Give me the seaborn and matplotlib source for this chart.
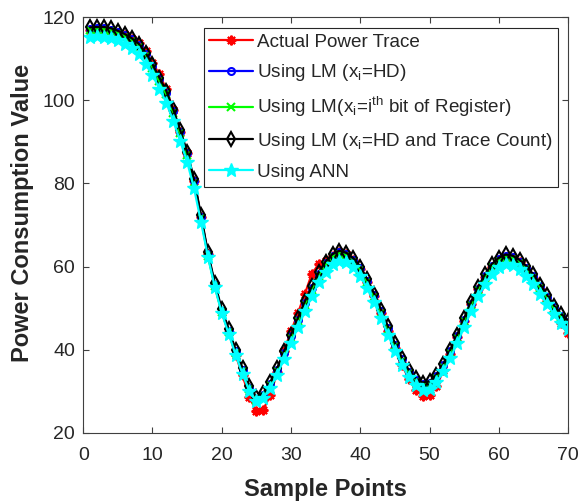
import pandas as pd
import seaborn as sns
import matplotlib.pyplot as plt

# Sample points 1..70 and the five traces
sample = list(range(1, 71))

lm_hd_count = [117.5, 117.6, 117.6, 117.3, 116.7, 115.9, 114.9, 113.6, 111.4, 108.6,
               105.4, 102.2, 97.8, 92.8, 87.6, 81.0, 72.4, 63.4, 56.0, 49.8,
               45.0, 40.0, 35.6, 31.3, 28.6, 29.6, 32.2, 35.6, 39.6, 43.6,
               47.6, 51.6, 55.2, 58.6, 61.2, 63.0, 63.8, 63.3, 62.0, 60.0,
               57.0, 53.5, 49.6, 45.6, 41.6, 38.1, 35.1, 33.1, 32.1, 32.4,
               34.0, 36.6, 40.0, 43.6, 47.6, 51.5, 55.1, 58.1, 60.6, 62.1,
               62.9, 62.6, 61.6, 60.1, 58.1, 55.6, 53.1, 50.6, 48.6, 47.0]

actual = [116.8, 117.0, 117.0, 116.6, 116.2, 115.6, 114.8, 113.8, 111.8, 109.0,
          106.2, 102.6, 97.6, 92.4, 87.2, 80.6, 72.0, 63.0, 55.6, 49.0,
          44.2, 38.8, 33.8, 28.6, 25.2, 25.6, 29.0, 34.6, 39.8, 44.4,
          48.8, 53.4, 58.2, 60.6, 61.4, 62.6, 63.6, 63.0, 61.6, 59.4,
          56.4, 52.8, 48.8, 44.6, 40.4, 36.4, 33.0, 30.4, 28.8, 29.0,
          31.2, 35.0, 39.0, 43.0, 47.0, 51.0, 54.6, 57.6, 60.0, 61.6,
          62.4, 62.0, 61.0, 59.4, 57.2, 54.6, 51.8, 49.0, 46.4, 44.0]

lm_hd = [117.2, 117.3, 117.3, 117.0, 116.4, 115.6, 114.6, 113.2, 111.0, 108.2,
         105.0, 101.8, 97.4, 92.4, 87.2, 80.6, 72.0, 63.0, 55.6, 49.4,
         44.6, 39.6, 35.2, 30.9, 28.2, 29.2, 31.8, 35.2, 39.2, 43.2,
         47.2, 51.2, 54.8, 58.2, 60.8, 62.6, 63.4, 62.9, 61.6, 59.6,
         56.6, 53.1, 49.2, 45.2, 41.2, 37.7, 34.7, 32.7, 31.7, 32.0,
         33.6, 36.2, 39.6, 43.2, 47.2, 51.1, 54.7, 57.7, 60.2, 61.7,
         62.5, 62.2, 61.2, 59.7, 57.7, 55.2, 52.7, 50.2, 48.2, 46.6]

lm_bits = [116.8, 116.9, 116.9, 116.6, 116.0, 115.2, 114.2, 112.8, 110.6, 107.8,
           104.6, 101.4, 97.0, 92.0, 86.8, 80.2, 71.6, 62.6, 55.2, 49.0,
           44.2, 39.2, 34.8, 30.5, 27.8, 28.8, 31.4, 34.8, 38.8, 42.8,
           46.8, 50.8, 54.4, 57.8, 60.4, 62.2, 63.0, 62.5, 61.2, 59.2,
           56.2, 52.7, 48.8, 44.8, 40.8, 37.3, 34.3, 32.3, 31.3, 31.6,
           33.2, 35.8, 39.2, 42.8, 46.8, 50.7, 54.3, 57.3, 59.8, 61.3,
           62.1, 61.8, 60.8, 59.3, 57.3, 54.8, 52.3, 49.8, 47.8, 46.2]

ann = [115.2, 115.4, 115.3, 115.0, 114.4, 113.6, 112.5, 111.0, 108.8, 106.0,
       102.8, 99.4, 95.0, 90.2, 85.2, 78.8, 70.8, 62.4, 55.0, 48.8,
       43.8, 38.8, 34.2, 30.0, 27.6, 28.4, 30.8, 34.0, 37.8, 41.6,
       45.4, 49.2, 52.8, 56.2, 58.8, 60.6, 61.4, 61.0, 59.8, 57.8,
       54.8, 51.4, 47.6, 43.6, 39.8, 36.4, 33.4, 31.4, 30.4, 30.6,
       32.2, 34.8, 38.0, 41.6, 45.4, 49.2, 52.8, 55.8, 58.2, 59.8,
       60.6, 60.3, 59.3, 57.8, 55.8, 53.4, 50.9, 48.5, 46.5, 45.0]

labels = ['Actual Power Trace',
          'Using LM (x$_i$=HD)',
          'Using LM(x$_i$=i$^{th}$ bit of Register)',
          'Using LM (x$_i$=HD and Trace Count)',
          'Using ANN']

sns.set_style('ticks', {'xtick.direction': 'in', 'ytick.direction': 'in'})
plt.rcParams['font.family'] = ['Liberation Sans', 'DejaVu Sans']
plt.rcParams['mathtext.fontset'] = 'custom'
plt.rcParams['mathtext.rm'] = 'Liberation Sans'
plt.rcParams['mathtext.it'] = 'Liberation Sans'
plt.rcParams['mathtext.default'] = 'regular'

fig = plt.figure(figsize=(5.82, 5.01), dpi=100)
ax = fig.add_axes([0.143, 0.136, 0.833, 0.830])

styles = [
    (actual, 'red', (8, 2, 0), dict(markersize=7, markeredgewidth=1.5)),
    (lm_hd, 'blue', 'o', dict(markersize=5, markerfacecolor='none', markeredgewidth=1.5)),
    (lm_bits, 'lime', 'x', dict(markersize=6, markeredgewidth=1.5)),
    (lm_hd_count, 'black', 'd', dict(markersize=7, markerfacecolor='none', markeredgewidth=1.5)),
    (ann, 'cyan', '*', dict(markersize=10, markeredgewidth=1.0)),
]

for (vals, col, mk, kw), lab in zip(styles, labels):
    sns.lineplot(x=sample, y=vals, color=col, marker=mk, linewidth=1.6,
                 markeredgecolor=col, label=lab, ax=ax, **kw)

ax.set_xlim(0, 70)
ax.set_ylim(20, 120)
ax.set_xticks(range(0, 71, 10))
ax.set_yticks(range(20, 121, 20))
ax.tick_params(labelsize=14, top=True, right=True, length=4, color='#404040',
               labelcolor='#262626')
ax.tick_params(axis='x', pad=10)
ax.tick_params(axis='y', pad=6)
for sp in ax.spines.values():
    sp.set_color('#404040')
    sp.set_linewidth(0.8)

ax.set_xlabel('Sample Points', fontsize=17, fontweight='bold', color='#262626')
ax.set_ylabel('Power Consumption Value', fontsize=17, fontweight='bold', color='#262626')
ax.xaxis.set_label_coords(0.5, -0.108)
ax.yaxis.set_label_coords(-0.102, 0.53)

leg = ax.legend(loc='upper right', bbox_to_anchor=(0.979, 0.974), fontsize=13.6,
                handlelength=2.3, handletextpad=0.2, labelspacing=0.62,
                borderpad=0.3, fancybox=False, framealpha=1, borderaxespad=0)
leg.get_frame().set_edgecolor('#262626')
leg.get_frame().set_linewidth(0.8)

fig.savefig('out.png', dpi=100)
